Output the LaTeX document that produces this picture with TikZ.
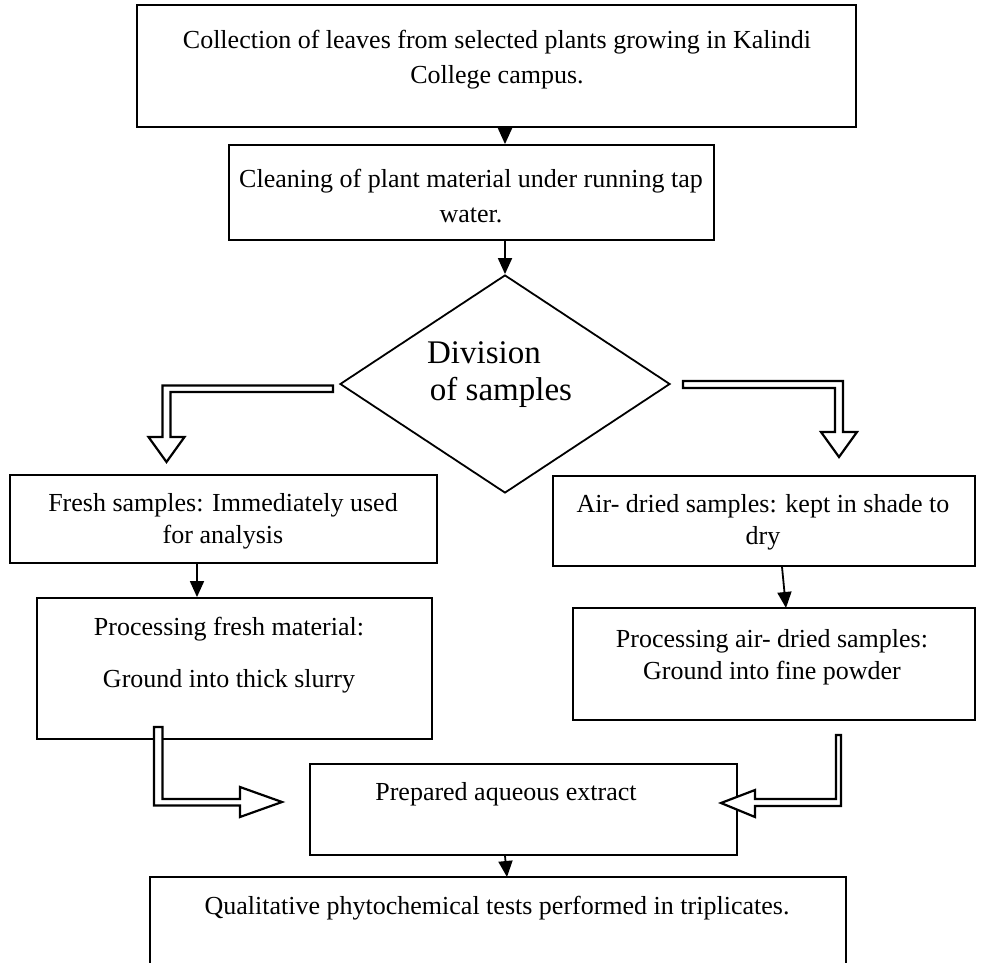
\documentclass[tikz,border=0pt]{standalone}
\usepackage{fontspec}
\setmainfont{Liberation Serif}
\usetikzlibrary{arrows.meta,shapes.geometric}
\begin{document}
\begin{tikzpicture}[x=1pt,y=-1pt,
  box/.style={draw,line width=1.8pt,inner sep=0pt},
  txt/.style={align=center,font=\fontsize{26}{35}\selectfont,inner sep=0pt},
  arr/.style={line width=1.8pt,-{Triangle[length=16pt,width=14pt]}},
  hollow/.style={draw,line width=2.2pt,fill=white,line join=miter}
]
\useasboundingbox (0,0) rectangle (983,963);
% boxes
\node[box,minimum width=719pt,minimum height=122pt] (b1) at (496.5,66) {};
\node[box,minimum width=485pt,minimum height=95pt] (b2) at (471.5,192.5) {};
\node[box,diamond,minimum width=330pt,minimum height=218pt] (d) at (505,384) {};
\node[box,minimum width=427pt,minimum height=88pt] (b3) at (223.5,519) {};
\node[box,minimum width=422pt,minimum height=90pt] (b4) at (764,521) {};
\node[box,minimum width=395pt,minimum height=141pt] (b5) at (234.5,668.5) {};
\node[box,minimum width=402pt,minimum height=112pt] (b6) at (774,664) {};
\node[box,minimum width=427pt,minimum height=91pt] (b7) at (523.5,809.5) {};
\coordinate (b8nw) at (150,877);
\coordinate (b8ne) at (846,877);
\draw[line width=1.8pt] (150,963) -- (b8nw) -- (b8ne) -- (846,963);
% texts
\node[txt] (t1) at (497,60) {Collection of leaves from selected plants growing in Kalindi\\College campus.};
\node[txt] (t2) at (471,196) {Cleaning of plant material under running tap\\water.};
\node[txt,font=\fontsize{33}{38}\selectfont] (td1) at (484,353) {Division};
\node[txt,font=\fontsize{33}{38}\selectfont] (td2) at (501,392) {of samples};
\node[txt,font=\fontsize{26}{32}\selectfont] (t3) at (223,521) {Fresh samples: Immediately used\\for analysis};
\node[txt,font=\fontsize{26}{32}\selectfont] (t4) at (763,522) {Air- dried samples: kept in shade to\\dry};
\node[txt] (t5) at (229,655) {Processing fresh material:\\[17pt]Ground into thick slurry};
\node[txt,font=\fontsize{26}{32}\selectfont] (t6) at (772,657) {Processing air- dried samples:\\Ground into fine powder};
\node[txt] (t7) at (506,794) {Prepared aqueous extract};
\node[txt] (t8) at (497,908) {Qualitative phytochemical tests performed in triplicates.};
% thin arrows
\draw[arr] (b1.south -| d.north) -- (b2.north -| d.north);
\draw[arr] (b2.south -| d.north) -- (d.north);
\draw[arr] (b3.south -| 197,0) -- (b5.north -| 197,0);
\draw[arr] (b4.south -| 782,0) -- (786,608);
\draw[arr] (b7.south -| 505,0) -- (b8nw -| 507,0);
% hollow double arrows
\draw[hollow] (333,385.5) -- (162.5,385.5) -- (162.5,437) -- (148.5,437) -- (166.5,462) -- (184.5,437) -- (170.5,437) -- (170.5,392) -- (333,392) -- cycle;
\draw[hollow] (683,381) -- (843,381) -- (843,432) -- (857,432) -- (839,457) -- (821,432) -- (835,432) -- (835,388) -- (683,388) -- cycle;
\draw[hollow] (154,727) -- (162.5,727) -- (162.5,799) -- (240,799) -- (240,787) -- (282,802) -- (240,817) -- (240,805.5) -- (154,805.5) -- cycle;
\draw[hollow] (836,735) -- (841,735) -- (841,806) -- (755,806) -- (755,817) -- (721,803) -- (755,790) -- (755,799) -- (836,799) -- cycle;
\end{tikzpicture}
\end{document}
